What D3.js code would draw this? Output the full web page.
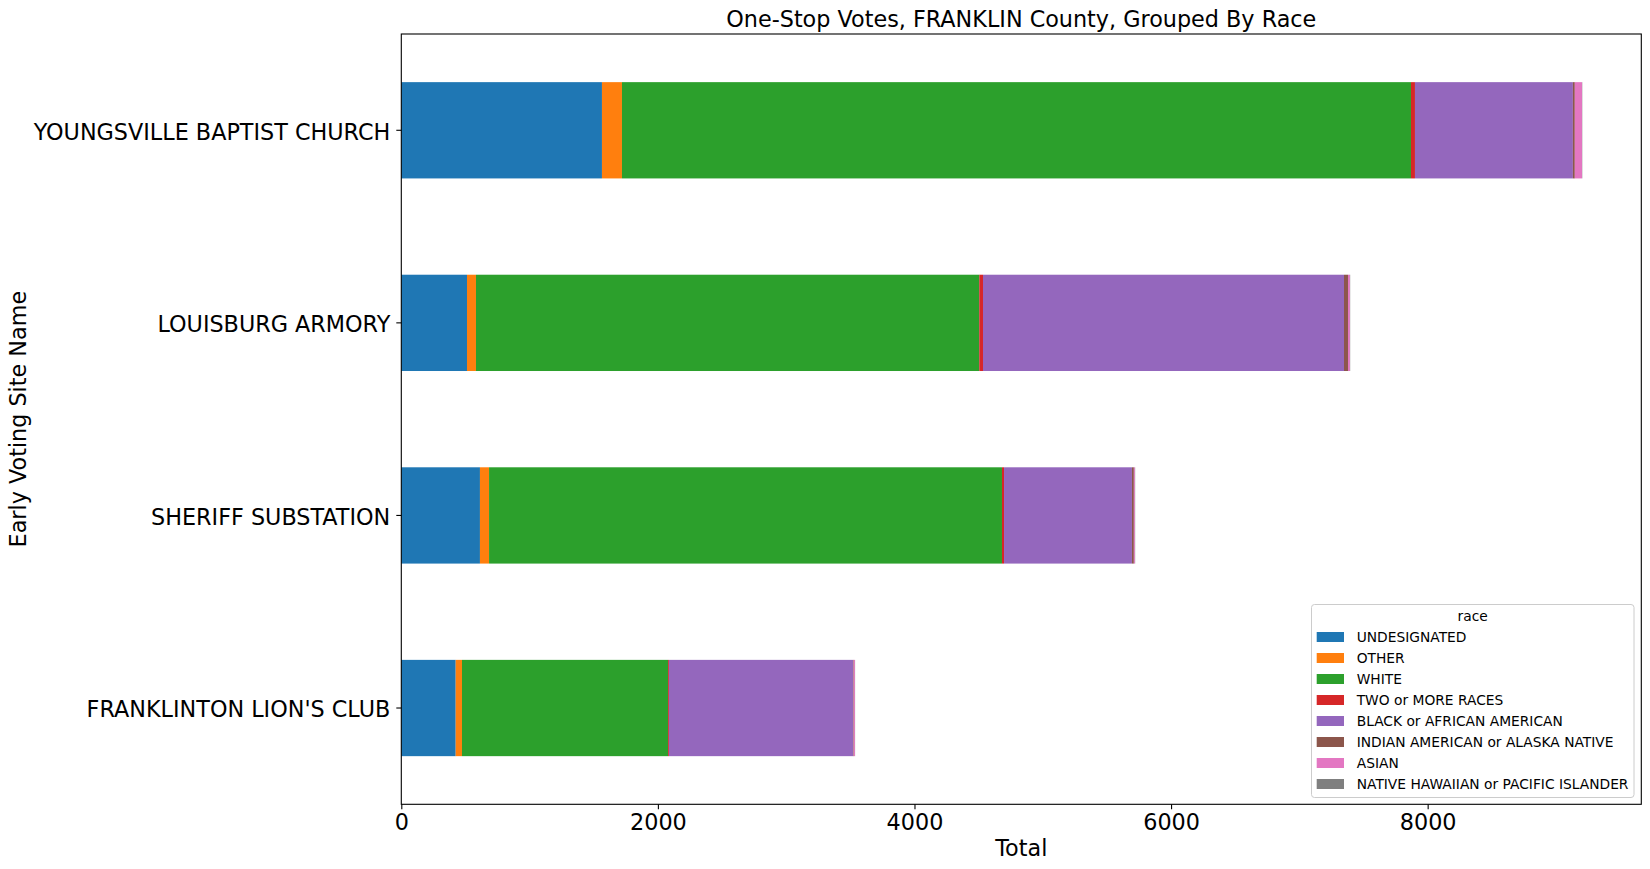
<!DOCTYPE html>
<html>
<head>
<meta charset="utf-8">
<script src="https://cdn.jsdelivr.net/npm/d3@7"></script>
<style>
  html, body { margin: 0; padding: 0; background: #fff; }
  svg { display: block; font-family: "DejaVu Sans", sans-serif; }
</style>
</head>
<body>
<svg id="chart" width="1650" height="869"></svg>
<script>
// Data (bottom to top in the original plot order)
const categories = ["FRANKLINTON LION'S CLUB", "SHERIFF SUBSTATION", "LOUISBURG ARMORY", "YOUNGSVILLE BAPTIST CHURCH"];
const races = ["UNDESIGNATED", "OTHER", "WHITE", "TWO or MORE RACES", "BLACK or AFRICAN AMERICAN", "INDIAN AMERICAN or ALASKA NATIVE", "ASIAN", "NATIVE HAWAIIAN or PACIFIC ISLANDER"];
const undesignated = [424, 613, 512, 1564];
const other        = [49, 71, 70, 156];
const white        = [1606, 3998, 3923, 6150];
const twoOrMore    = [7, 16, 29, 31];
const black        = [1435, 997, 2814, 1231];
const indian       = [5, 15, 31, 15];
const asian        = [10, 8, 15, 56];
const hawaiian     = [1, 2, 2, 2];
const xTicks = [0, 2000, 4000, 6000, 8000];
const colors = ["#1f77b4", "#ff7f0e", "#2ca02c", "#d62728", "#9467bd", "#8c564b", "#e377c2", "#7f7f7f"];

const seriesValues = [undesignated, other, white, twoOrMore, black, indian, asian, hawaiian];
const rows = categories.map((c, i) => {
  const r = { site: c };
  races.forEach((race, j) => { r[race] = seriesValues[j][i]; });
  return r;
});

const svg = d3.select("#chart");
const L = 401.3, T = 34, R = 1641.3, B = 804.3;
const FS = 22.3;

const maxTotal = d3.max(rows, r => d3.sum(races, k => r[k]));
const x = d3.scaleLinear().domain([0, maxTotal * 1.05]).range([L, R]);
const y = d3.scaleBand()
  .domain(categories.slice().reverse())
  .range([T, B])
  .paddingInner(0.5)
  .paddingOuter(0.25);
const color = d3.scaleOrdinal().domain(races).range(colors);

const stack = d3.stack().keys(races);
const stacked = stack(rows);

svg.append("g").selectAll("g")
  .data(stacked)
  .join("g")
  .attr("fill", d => color(d.key))
  .selectAll("rect")
  .data(d => d)
  .join("rect")
  .attr("x", d => x(d[0]))
  .attr("width", d => Math.max(0, x(d[1]) - x(d[0])))
  .attr("y", d => y(d.data.site))
  .attr("height", y.bandwidth());

// Axes
const xAxis = d3.axisBottom(x).tickValues(xTicks).tickSize(5).tickPadding(5).tickFormat(d3.format("d"));
const gx = svg.append("g").attr("transform", `translate(0,${B})`).call(xAxis);
gx.select(".domain").remove();
gx.selectAll("line").attr("stroke", "#000").attr("stroke-width", 1.1);
gx.selectAll("text").attr("font-size", FS).attr("fill", "#000").attr("font-family", "DejaVu Sans");

const yAxis = d3.axisLeft(y).tickSize(5).tickPadding(6);
const gy = svg.append("g").attr("transform", `translate(${L},0)`).call(yAxis);
gy.select(".domain").remove();
gy.selectAll("line").attr("stroke", "#000").attr("stroke-width", 1.1);
gy.selectAll("text").attr("font-size", FS).attr("fill", "#000").attr("font-family", "DejaVu Sans").attr("dy", "0.42em");

// Spines
svg.append("rect")
  .attr("x", L).attr("y", T).attr("width", R - L).attr("height", B - T)
  .attr("fill", "none").attr("stroke", "#000").attr("stroke-width", 1.1);

// Title and labels
svg.append("text")
  .attr("x", (L + R) / 2).attr("y", 27)
  .attr("text-anchor", "middle").attr("font-size", FS).attr("fill", "#000")
  .text("One-Stop Votes, FRANKLIN County, Grouped By Race");

svg.append("text")
  .attr("x", (L + R) / 2).attr("y", 856)
  .attr("text-anchor", "middle").attr("font-size", FS).attr("fill", "#000")
  .text("Total");

svg.append("text")
  .attr("transform", `translate(26,${(T + B) / 2}) rotate(-90)`)
  .attr("text-anchor", "middle").attr("font-size", FS).attr("fill", "#000")
  .text("Early Voting Site Name");

// Legend
const lg = svg.append("g");
lg.append("rect")
  .attr("x", 1311.5).attr("y", 604.5).attr("width", 322.5).attr("height", 193)
  .attr("rx", 3).attr("ry", 3)
  .attr("fill", "#fff").attr("fill-opacity", 0.8)
  .attr("stroke", "#cccccc").attr("stroke-width", 1);
lg.append("text")
  .attr("x", 1472.7).attr("y", 616).attr("dy", "0.35em")
  .attr("text-anchor", "middle").attr("font-size", 13.8).attr("fill", "#000")
  .text("race");
const items = lg.selectAll("g.item").data(races).join("g").attr("class", "item")
  .attr("transform", (d, i) => `translate(0,${637 + i * 21})`);
items.append("rect")
  .attr("x", 1316.7).attr("y", -5).attr("width", 27.3).attr("height", 10)
  .attr("fill", d => color(d));
items.append("text")
  .attr("x", 1356.7).attr("y", 0).attr("dy", "0.35em")
  .attr("font-size", 13.8).attr("fill", "#000")
  .text(d => d);
</script>
</body>
</html>
